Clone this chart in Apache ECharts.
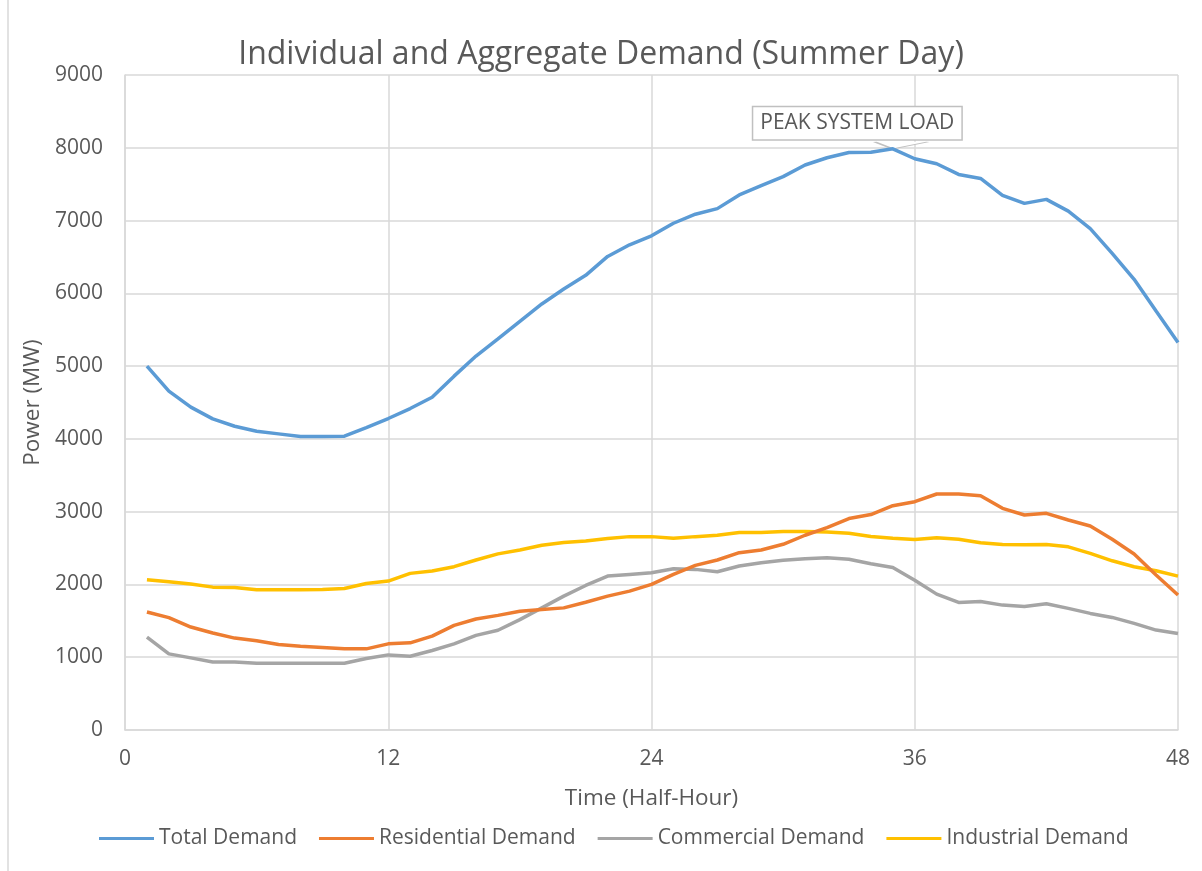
<!DOCTYPE html>
<html>
<head>
<meta charset="utf-8">
<script src="https://cdn.jsdelivr.net/npm/echarts@6/dist/echarts.min.js"></script>
<style>
html,body{margin:0;padding:0;background:#fff;}
#chart{width:1202px;height:871px;}
</style>
</head>
<body>
<div id="chart"></div>
<script>
const halfHours = [1,2,3,4,5,6,7,8,9,10,11,12,13,14,15,16,17,18,19,20,21,22,23,24,25,26,27,28,29,30,31,32,33,34,35,36,37,38,39,40,41,42,43,44,45,46,47,48];
const totalDemand = [5000,4656,4436,4275,4174,4105,4069,4032,4032,4037,4156,4280,4417,4573,4862,5138,5375,5616,5854,6059,6247,6507,6667,6790,6963,7087,7164,7352,7480,7603,7763,7863,7936,7938,7986,7849,7780,7634,7579,7346,7236,7291,7130,6888,6549,6192,5757,5323];
const residentialDemand = [1622,1544,1415,1332,1263,1226,1175,1152,1134,1115,1115,1184,1198,1290,1438,1525,1575,1632,1655,1678,1756,1839,1908,2000,2138,2262,2336,2437,2474,2552,2676,2782,2906,2960,3082,3137,3243,3243,3220,3046,2954,2977,2886,2803,2620,2419,2130,1855];
const commercialDemand = [1276,1046,991,935,935,917,917,917,917,917,982,1032,1014,1092,1184,1300,1370,1517,1678,1839,1986,2115,2138,2161,2216,2207,2175,2253,2299,2331,2354,2368,2345,2285,2233,2059,1867,1753,1767,1716,1698,1735,1671,1602,1547,1465,1373,1327];
const industrialDemand = [2065,2037,2005,1963,1959,1926,1926,1926,1931,1945,2014,2046,2152,2184,2244,2336,2420,2474,2538,2575,2598,2630,2657,2657,2634,2657,2676,2713,2713,2726,2726,2722,2703,2660,2636,2618,2641,2622,2572,2549,2545,2549,2517,2426,2325,2243,2188,2114];
const seriesNames = ['Total Demand','Residential Demand','Commercial Demand','Industrial Demand'];
const xTicks = [0,12,24,36,48];
const yTicks = [0,1000,2000,3000,4000,5000,6000,7000,8000,9000];
const peakHalfHour = 35;
const peakLabel = 'PEAK SYSTEM LOAD';

const colors = ['#5B9BD5','#ED7D31','#A5A5A5','#FFC000'];
const txt = '#595959';
const font = 'Open Sans';

function pairs(vals){ return halfHours.map((h,i)=>[h, vals[i]]); }

const allData = [totalDemand, residentialDemand, commercialDemand, industrialDemand];
const series = allData.map((vals, i) => ({
  name: seriesNames[i],
  type: 'line',
  data: pairs(vals),
  showSymbol: false,
  symbol: 'none',
  smooth: false,
  z: 10 - i,
  lineStyle: {color: colors[i], width: 3.5},
  itemStyle: {color: colors[i]},
  emphasis: {disabled: true}
}));

series[0].markPoint = {
  silent: true,
  symbol: 'path://M0,0 L18,7 L53,0',
  symbolSize: [53, 7],
  symbolOffset: [8.5, -3.5],
  itemStyle: {color: '#ffffff', borderColor: '#c0c0c0', borderWidth: 1.5},
  label: {
    show: true,
    position: 'inside',
    offset: [-44, -22],
    formatter: peakLabel,
    fontFamily: font,
    fontSize: 21,
    color: txt,
    backgroundColor: '#ffffff',
    borderColor: '#c0c0c0',
    borderWidth: 1.5,
    padding: [6, 7, 5, 7]
  },
  data: [{coord: [peakHalfHour, totalDemand[halfHours.indexOf(peakHalfHour)]]}]
};

const chart = echarts.init(document.getElementById('chart'), null, {renderer: 'canvas'});
chart.setOption({
  animation: false,
  backgroundColor: '#ffffff',
  color: colors,
  title: {
    text: 'Individual and Aggregate Demand (Summer Day)',
    left: 'center',
    top: 34,
    textStyle: {fontFamily: font, fontSize: 32, fontWeight: 'normal', color: txt}
  },
  graphic: [{
    type: 'line', shape: {x1: 8, y1: 0, x2: 8, y2: 871},
    style: {stroke: '#e2e2e2', lineWidth: 2}, silent: true
  }],
  legend: {
    left: 94,
    top: 823,
    itemGap: 22,
    itemWidth: 55,
    itemHeight: 3,
    icon: 'rect',
    textStyle: {fontFamily: font, fontSize: 21, color: txt},
    data: seriesNames
  },
  grid: {left: 125, right: 24, top: 75, bottom: 141, containLabel: false},
  xAxis: {
    type: 'value',
    min: xTicks[0],
    max: xTicks[xTicks.length-1],
    interval: 12,
    name: 'Time (Half-Hour)',
    nameLocation: 'middle',
    nameGap: 57,
    nameTextStyle: {fontFamily: font, fontSize: 22.5, color: txt},
    axisLine: {show: true, lineStyle: {color: '#d9d9d9', width: 1.5}},
    axisTick: {show: false},
    axisLabel: {fontFamily: font, fontSize: 21, color: txt, margin: 19},
    splitLine: {show: true, lineStyle: {color: '#d9d9d9', width: 1.5}}
  },
  yAxis: {
    type: 'value',
    min: yTicks[0],
    max: yTicks[yTicks.length-1],
    interval: 1000,
    name: 'Power (MW)',
    nameLocation: 'middle',
    nameGap: 81,
    nameTextStyle: {fontFamily: font, fontSize: 22.5, color: txt},
    axisLine: {show: true, lineStyle: {color: '#d9d9d9', width: 1.5}},
    axisTick: {show: false},
    axisLabel: {fontFamily: font, fontSize: 21, color: txt, margin: 22, formatter: v => String(v)},
    splitLine: {show: true, lineStyle: {color: '#d9d9d9', width: 1.5}}
  },
  series: series
});
</script>
</body>
</html>
